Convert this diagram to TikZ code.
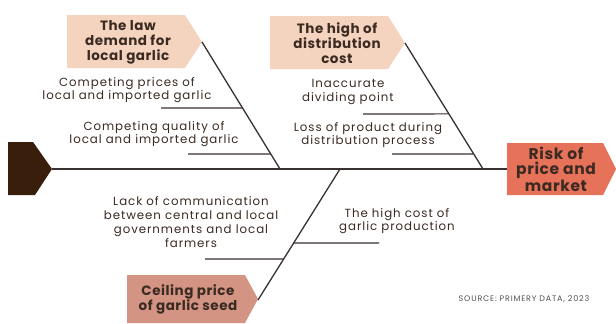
\documentclass[tikz,border=0pt]{standalone}
\usepackage{fontspec}
\setmainfont{Poppins}
\usetikzlibrary{calc}
\definecolor{tailC}{HTML}{3A1E0C}
\definecolor{headC}{HTML}{E6725A}
\definecolor{peachC}{HTML}{F5D4BF}
\definecolor{roseC}{HTML}{D39483}
\definecolor{lineC}{HTML}{3A3030}
\definecolor{textC}{HTML}{3B2A22}
\definecolor{noteC}{HTML}{555050}
\begin{document}
\begin{tikzpicture}[x=1pt,y=-1pt,
  bone/.style={draw=lineC, line width=1.3pt},
  twig/.style={draw=lineC, line width=1.1pt},
  cause/.style={font=\fontsize{11.8}{13.8}\selectfont\addfontfeatures{LetterSpace=8}, text=textC, align=center, inner sep=0pt},
  cat/.style={font=\bfseries\fontsize{13.5}{15}\selectfont\addfontfeatures{LetterSpace=4}, text=textC, align=center, inner sep=0pt},
  headtext/.style={font=\bfseries\fontsize{15.5}{15.5}\selectfont\addfontfeatures{LetterSpace=4}, text=textC, align=center, inner sep=0pt}]
\useasboundingbox (0,0) rectangle (616,324);
\fill[white] (0,0) rectangle (616,324);

% tail and head of the spine
\fill[tailC] (8,142) -- (33,142) -- (52,169) -- (35,195) -- (8,195) -- cycle;
\coordinate (tail) at (52,169);
\fill[headC] (507,143) -- (603,143) -- (616,169) -- (603,195) -- (507,195) -- cycle;
\node[headtext] (effect) at (556,169) {Risk of\\price and\\market};
\coordinate (head) at (507,169);
\draw[bone] (tail) -- (head);

% category: low demand
\fill[peachC] (67,15) -- (185,15) -- (202,42) -- (185,68) -- (67,68) -- cycle;
\node[cat] (demand) at (128,42) {The law\\demand for\\local garlic};
\coordinate (b1top) at (202,42);
\coordinate (b1foot) at (280,169);
\draw[bone] (b1top) -- (b1foot);
\node[cause] (c11) at (127,90) {Competing prices of\\local and imported garlic};
\coordinate (c11s) at (161,108);
\draw[twig] (c11s) -- ($(b1top)!0.52!(b1foot)$);
\node[cause] (c12) at (154,134) {Competing quality of\\local and imported garlic};
\coordinate (c12s) at (188,154);
\draw[twig] (c12s) -- ($(b1top)!0.882!(b1foot)$);

% category: distribution cost
\fill[peachC] (270,16) -- (388,16) -- (405,43) -- (388,69) -- (270,69) -- cycle;
\node[cat] (distrib) at (337,43) {The high of\\distribution\\cost};
\coordinate (b2top) at (405,43);
\coordinate (b2foot) at (483,169);
\draw[bone] (b2top) -- (b2foot);
\node[cause] (c21) at (348,92) {Inaccurate\\dividing point};
\coordinate (c21s) at (363,114);
\draw[twig] (c21s) -- ($(b2top)!0.563!(b2foot)$);
\node[cause] (c22) at (368,135) {Loss of product during\\distribution process};
\coordinate (c22s) at (392,154);
\draw[twig] (c22s) -- ($(b2top)!0.881!(b2foot)$);

% category: seed price
\fill[roseC] (127,275) -- (245,275) -- (258,299) -- (245,323) -- (127,323) -- cycle;
\node[cat] (seed) at (188,299) {Ceiling price\\of garlic seed};
\coordinate (b3foot) at (340,169);
\coordinate (b3end) at (258,300);
\draw[bone] (b3foot) -- (b3end);
\node[cause] (c31) at (191,222) {Lack of communication\\between central and local\\governments and local\\farmers};
\coordinate (c31s) at (205,259);
\draw[twig] (c31s) -- ($(b3foot)!0.687!(b3end)$);
\node[cause] (c32) at (397,221) {The high cost of\\garlic production};
\coordinate (c32s) at (379,243);
\draw[twig] ($(b3foot)!0.565!(b3end)$) -- (c32s);

% source note
\node[font=\fontsize{8}{9}\selectfont\addfontfeatures{LetterSpace=10}, text=noteC, inner sep=0pt] (note) at (524,299) {SOURCE: PRIMERY DATA, 2023};
\end{tikzpicture}
\end{document}
